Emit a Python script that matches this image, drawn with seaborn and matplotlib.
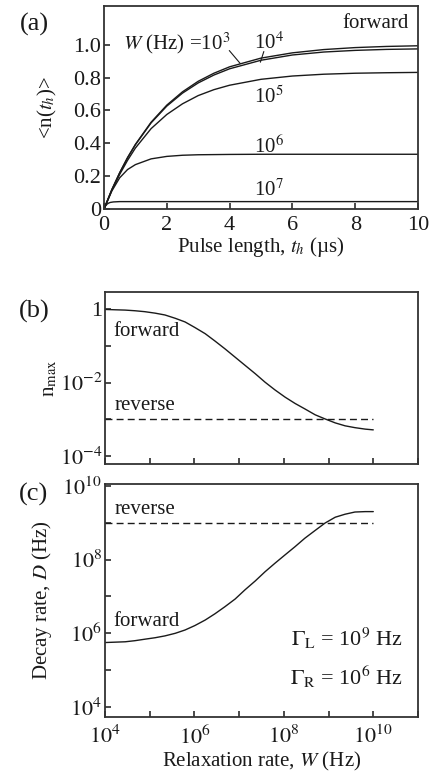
import numpy as np
import pandas as pd
import matplotlib
matplotlib.use('Agg')
import matplotlib.pyplot as plt
import matplotlib.ticker as mticker
import seaborn as sns

sns.set_theme(style="ticks")
plt.rcParams.update({
    "font.family": ["Liberation Serif", "DejaVu Serif"],
    "mathtext.fontset": "stix",
    "font.size": 15,
    "axes.edgecolor": "#333333",
    "axes.linewidth": 1.3,
    "axes.labelcolor": "#1a1a1a",
    "text.color": "#1a1a1a",
    "xtick.color": "#333333",
    "ytick.color": "#333333",
    "xtick.labelcolor": "#1a1a1a",
    "ytick.labelcolor": "#1a1a1a",
    "xtick.direction": "in",
    "ytick.direction": "in",
    "xtick.major.size": 4,
    "ytick.major.size": 4,
    "xtick.labelsize": 16,
    "ytick.labelsize": 16,
    "axes.labelsize": 15,
})

# panel (a): <n(t_h)> vs pulse length, one curve per W
t_grid = [0, 0.25, 0.5, 0.75, 1, 1.5, 2, 2.5, 3, 3.5, 4, 5, 6, 7, 8, 9, 10]
n_w1e3 = [0, 0.118, 0.221, 0.313, 0.393, 0.528, 0.632, 0.713, 0.777, 0.826, 0.865, 0.918, 0.950, 0.970, 0.982, 0.989, 0.993]
n_w1e4 = [0, 0.118, 0.220, 0.311, 0.391, 0.524, 0.626, 0.705, 0.767, 0.815, 0.853, 0.905, 0.937, 0.955, 0.965, 0.971, 0.974]
n_w1e5 = [0, 0.114, 0.211, 0.296, 0.371, 0.489, 0.575, 0.640, 0.690, 0.726, 0.753, 0.789, 0.809, 0.820, 0.826, 0.829, 0.831]
n_w1e6 = [0, 0.110, 0.190, 0.240, 0.270, 0.305, 0.320, 0.327, 0.330, 0.331, 0.332, 0.333, 0.333, 0.333, 0.333, 0.333, 0.333]
t_w1e7 = [0, 0.05, 0.1, 0.15, 0.2, 0.3, 0.5, 10]
n_w1e7 = [0, 0.019, 0.030, 0.036, 0.040, 0.043, 0.045, 0.045]

# panels (b) and (c): relaxation rate W (Hz), shared grid
W_grid = [1e4, 1.66e4, 2.82e4, 4.68e4, 7.76e4, 1.32e5, 2.19e5, 3.72e5, 6.17e5, 1.02e6,
          1.74e6, 2.88e6, 4.79e6, 8.13e6, 1.35e7, 2.29e7, 3.8e7, 6.31e7, 1.07e8, 1.78e8,
          2.95e8, 5.01e8, 8.32e8, 1.41e9, 2.34e9, 3.89e9, 6.61e9, 1e10]
nmax_fwd = [0.979, 0.959, 0.94, 0.902, 0.851, 0.776, 0.692, 0.562, 0.447, 0.316,
            0.214, 0.135, 0.0832, 0.049, 0.0295, 0.0174, 0.0102, 0.0063, 0.00398, 0.00269,
            0.00191, 0.00132, 0.00102, 0.000794, 0.000661, 0.000589, 0.000537, 0.000513]
D_fwd = [5.62e5, 5.75e5, 5.89e5, 6.31e5, 6.92e5, 7.59e5, 8.51e5, 1.0e6, 1.23e6, 1.62e6,
         2.29e6, 3.39e6, 5.25e6, 8.51e6, 1.51e7, 2.63e7, 4.68e7, 7.94e7, 1.35e8, 2.24e8,
         3.8e8, 6.17e8, 9.77e8, 1.41e9, 1.70e9, 1.95e9, 2.0e9, 2.0e9]
W_rev = [1e4, 1e10]
nmax_rev = [1e-3, 1e-3]
D_rev = [1e9, 1e9]

# decade ticks
W_ticks = [1e4, 1e5, 1e6, 1e7, 1e8, 1e9, 1e10, 1e11]
nmax_ticks = [1e-4, 1e-3, 1e-2, 1e-1, 1]
D_ticks = [1e4, 1e5, 1e6, 1e7, 1e8, 1e9, 1e10]

LINE = "#1a1a1a"
W, H = 440, 780

fig = plt.figure(figsize=(4.4, 7.8), dpi=100)
ax_a = fig.add_axes([104 / W, 1 - 209 / H, 314 / W, 203 / H])
ax_b = fig.add_axes([105 / W, 1 - 464 / H, 313 / W, 172 / H])
ax_c = fig.add_axes([105 / W, 1 - 717 / H, 313 / W, 233 / H])

# ---- (a)
for n in [n_w1e3, n_w1e4, n_w1e5, n_w1e6]:
    sns.lineplot(x=t_grid, y=n, ax=ax_a, color=LINE, lw=1.0, estimator=None, sort=False)
sns.lineplot(x=t_w1e7, y=n_w1e7, ax=ax_a, color=LINE, lw=1.0, estimator=None, sort=False)
ax_a.set_xlim(0, 10)
ax_a.set_ylim(0, 1.235)
ax_a.set_xticks([0, 2, 4, 6, 8, 10])
ax_a.set_yticks([0, 0.2, 0.4, 0.6, 0.8, 1.0])
ax_a.set_yticklabels(["0", "0.2", "0.4", "0.6", "0.8", "1.0"])
ax_a.set_xlabel(r"Pulse length, $t_h$ (µs)", labelpad=0)
ax_a.set_ylabel(r"<n($t_h$)>", labelpad=10)
ax_a.text(9.7, 1.13, "forward", ha="right", va="center")
ax_a.text(0.6, 1.006, r"$W$ (Hz) =10$^3$", ha="left", va="center")
ax_a.text(4.78, 1.01, r"10$^4$", ha="left", va="center")
ax_a.text(4.78, 0.68, r"10$^5$", ha="left", va="center")
ax_a.text(4.78, 0.376, r"10$^6$", ha="left", va="center")
ax_a.text(4.78, 0.115, r"10$^7$", ha="left", va="center")
ax_a.plot([3.99, 4.34], [0.964, 0.885], color=LINE, lw=0.8)
ax_a.plot([5.09, 4.98], [0.958, 0.893], color=LINE, lw=0.8)


def log_fmt(v, pos):
    e = int(round(np.log10(v)))
    if e % 2:
        return ""
    if e == 0:
        return "1"
    return r"$10^{%d}$" % e


# ---- (b)
ax_b.set_xscale("log")
ax_b.set_yscale("log")
sns.lineplot(x=W_grid, y=nmax_fwd, ax=ax_b, color=LINE, lw=1.0, estimator=None, sort=False)
ax_b.plot(W_rev, nmax_rev, color=LINE, lw=1.0, ls=(0, (5, 3)))
ax_b.set_xlim(1e4, 1e11)
ax_b.set_ylim(10 ** -4.22, 10 ** 0.466)
ax_b.set_ylabel(r"n$_{\mathrm{max}}$", labelpad=0)
ax_b.text(10 ** 4.18, 10 ** -0.62, "forward", ha="left", va="center")
ax_b.text(10 ** 4.22, 10 ** -2.63, "reverse", ha="left", va="center")

# ---- (c)
ax_c.set_xscale("log")
ax_c.set_yscale("log")
sns.lineplot(x=W_grid, y=D_fwd, ax=ax_c, color=LINE, lw=1.0, estimator=None, sort=False)
ax_c.plot(W_rev, D_rev, color=LINE, lw=1.0, ls=(0, (5, 3)))
ax_c.set_xlim(1e4, 1e11)
ax_c.set_ylim(10 ** 3.73, 10 ** 10.05)
ax_c.set_xlabel(r"Relaxation rate, $W$ (Hz)", labelpad=1)
ax_c.set_ylabel(r"Decay rate, $D$ (Hz)", labelpad=6)
ax_c.text(10 ** 4.18, 10 ** 6.32, "forward", ha="left", va="center")
ax_c.text(10 ** 4.22, 10 ** 9.35, "reverse", ha="left", va="center")
ax_c.text(0.952, 0.339, r"$\Gamma_{\mathrm{L}}$ = 10$^9$ Hz", transform=ax_c.transAxes,
          ha="right", va="center", fontsize=16)
ax_c.text(0.952, 0.173, r"$\Gamma_{\mathrm{R}}$ = 10$^6$ Hz", transform=ax_c.transAxes,
          ha="right", va="center", fontsize=16)

for ax, yt in ((ax_b, nmax_ticks), (ax_c, D_ticks)):
    ax.xaxis.set_major_locator(mticker.FixedLocator(W_ticks))
    ax.yaxis.set_major_locator(mticker.FixedLocator(yt))
    ax.xaxis.set_minor_locator(mticker.NullLocator())
    ax.yaxis.set_minor_locator(mticker.NullLocator())
    ax.yaxis.set_major_formatter(mticker.FuncFormatter(log_fmt))
    ax.xaxis.set_major_formatter(mticker.FuncFormatter(log_fmt))
ax_b.tick_params(axis="x", labelbottom=False)
for ax in (ax_a, ax_b, ax_c):
    ax.tick_params(axis="y", pad=2)
ax_a.tick_params(axis="x", pad=5)
ax_c.tick_params(axis="x", pad=6)

fig.text(34 / W, 1 - 24 / H, "(a)", ha="center", va="center", fontsize=19)
fig.text(34 / W, 1 - 311 / H, "(b)", ha="center", va="center", fontsize=19)
fig.text(34 / W, 1 - 494 / H, "(c)", ha="center", va="center", fontsize=19)

fig.savefig("out.png", dpi=100)
